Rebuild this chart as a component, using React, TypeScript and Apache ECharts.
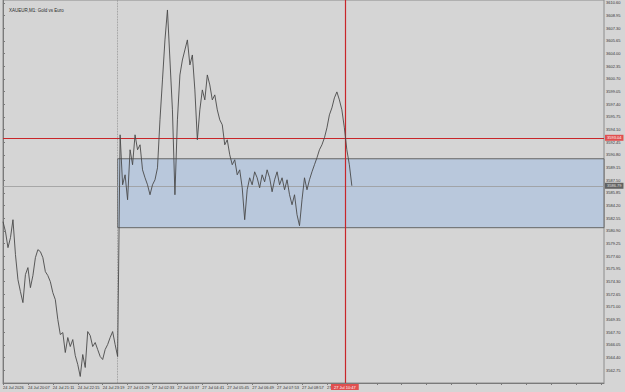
import React, { useEffect, useRef } from "react";
import * as echarts from "echarts";

const chartTitle = "XAUEUR,M1: Gold vs Euro";

// price scale
const BASE = 3561.1;
const TICK = 1.65;
const TOP_PRICE = 3610.99;

// x axis: one step = 6.4 minutes, label every 10 steps
const X_MAX = 241.2;
const timeLabels = [
  "24 Jul 2026",
  "24 Jul 20:07",
  "24 Jul 21:11",
  "24 Jul 22:15",
  "24 Jul 23:19",
  "27 Jul 01:29",
  "27 Jul 02:33",
  "27 Jul 03:37",
  "27 Jul 04:41",
  "27 Jul 05:45",
  "27 Jul 06:49",
  "27 Jul 07:53",
  "27 Jul 08:57",
  "27 Jul 10:01",
];

// previous session
const pricesDay1 = [
  3582.11, 3580.81, 3578.73, 3580.03, 3582.37, 3577.82, 3574.56, 3573.0, 3571.57, 3575.22,
  3576.13, 3573.52, 3575.09, 3577.43, 3578.47, 3578.21, 3577.43, 3575.61, 3575.09, 3574.3,
  3572.87, 3571.96, 3569.36, 3567.41, 3567.67, 3565.07, 3567.02, 3565.85, 3566.76, 3564.68,
  3563.51, 3561.95, 3564.81, 3563.12, 3567.8, 3567.28, 3565.85, 3566.37, 3565.46, 3564.55,
  3564.16, 3565.46, 3566.11, 3567.02, 3567.8, 3566.11, 3564.55,
];

// current session
const pricesDay2 = [
  3593.43, 3586.92, 3588.22, 3584.97, 3591.48, 3589.53, 3593.43, 3591.48, 3592.13, 3588.87,
  3587.83, 3586.92, 3585.62, 3586.92, 3587.57, 3589.13, 3595.38, 3600.58, 3605.79, 3609.69,
  3603.18, 3596.68, 3585.62, 3595.38, 3601.23, 3603.18, 3604.49, 3605.79, 3602.53, 3603.83,
  3599.28, 3592.78, 3596.68, 3599.28, 3597.98, 3601.23, 3599.93, 3597.98, 3598.63, 3596.68,
  3595.38, 3594.73, 3592.13, 3592.78, 3590.83, 3589.53, 3590.18, 3588.22, 3588.87, 3586.53,
  3582.37, 3586.27, 3587.83, 3586.92, 3588.61, 3587.83, 3586.53, 3588.22, 3587.31, 3588.87,
  3587.83, 3586.01, 3587.57, 3588.61, 3586.92, 3587.83, 3586.27, 3587.57, 3585.62, 3584.32,
  3585.62, 3583.02, 3581.59, 3584.97, 3587.83, 3586.27, 3587.57, 3588.61, 3589.53, 3590.44,
  3591.48, 3592.13, 3593.04, 3594.34, 3596.03, 3596.94, 3598.24, 3599.02, 3597.98, 3596.68,
  3594.34, 3591.48, 3589.53, 3586.79,
];

const separatorIndex = 46;
const bidPrice = 3586.79;
const crossPrice = 3593.04;
const crossIndex = 137.2;
const crossTimeLabel = "27 Jul 10:47";
const zoneTop = 3590.31;
const zoneBottom = 3581.33;

const FONT = "Liberation Sans, Arial, sans-serif";

export default function App() {
  const ref = useRef<HTMLDivElement>(null);
  useEffect(() => {
    if (!ref.current) return;
    const chart = echarts.init(ref.current, null, { renderer: "svg" });
    const prices = [...pricesDay1, ...pricesDay2];
    const data = prices.map((p, i) => [i, p - BASE]);
    const red = "#c8262a";
    chart.setOption({
      animation: false,
      backgroundColor: "#d5d5d5",
      title: {
        text: chartTitle,
        left: 4,
        top: 3,
        textStyle: { fontSize: 4.5, fontWeight: "normal", color: "#2a2a2a", fontFamily: FONT },
      },
      grid: {
        left: 1,
        right: 21,
        top: 0,
        bottom: 9,
        show: true,
        borderColor: "#8c8c8c",
        borderWidth: 1,
        backgroundColor: "#d5d5d5",
      },
      xAxis: {
        type: "value",
        min: 0,
        max: X_MAX,
        interval: 10,
        axisLine: { show: true, lineStyle: { color: "#7a7a7a" } },
        axisTick: { show: true, length: 2, lineStyle: { color: "#7a7a7a" } },
        splitLine: { show: false },
        axisLabel: {
          fontSize: 4,
          color: "#333",
          margin: 2,
          align: "left",
          fontFamily: FONT,
          showMaxLabel: false,
          formatter: (v: number) => timeLabels[Math.round(v / 10)] ?? "",
        },
      },
      yAxis: {
        type: "value",
        position: "right",
        min: 0,
        max: TOP_PRICE - BASE,
        interval: TICK,
        axisLine: { show: true, lineStyle: { color: "#7a7a7a" } },
        axisTick: { show: true, length: 2, lineStyle: { color: "#7a7a7a" } },
        splitLine: { show: false },
        axisLabel: {
          fontSize: 4,
          color: "#333",
          margin: 2,
          fontFamily: FONT,
          showMinLabel: false,
          showMaxLabel: false,
          formatter: (v: number) => (v + BASE).toFixed(2),
        },
      },
      series: [
        {
          type: "line",
          data,
          symbol: "none",
          lineStyle: { color: "#4a4a4a", width: 0.9 },
          z: 5,
          markArea: {
            silent: true,
            itemStyle: { color: "#b9c8dc", borderColor: "#666", borderWidth: 1 },
            data: [[
              { xAxis: separatorIndex, yAxis: zoneBottom - BASE },
              { xAxis: X_MAX, yAxis: zoneTop - BASE },
            ]],
          },
          markLine: {
            silent: true,
            symbol: ["none", "none"],
            data: [
              {
                xAxis: separatorIndex,
                lineStyle: { color: "#8a8a8a", type: "dotted", width: 0.8 },
                label: { show: false },
              },
              {
                yAxis: bidPrice - BASE,
                lineStyle: { color: "#9a9a9a", type: "solid", width: 0.8 },
                label: {
                  show: true,
                  position: "end",
                  distance: 1,
                  formatter: bidPrice.toFixed(2),
                  backgroundColor: "#626262",
                  color: "#e0e0e0",
                  fontSize: 4,
                  padding: [1, 2],
                  fontFamily: FONT,
                },
              },
              {
                yAxis: crossPrice - BASE,
                lineStyle: { color: red, type: "solid", width: 1.2 },
                label: {
                  show: true,
                  position: "end",
                  distance: 1,
                  formatter: crossPrice.toFixed(2),
                  backgroundColor: "#e05050",
                  color: "#fff",
                  fontSize: 4,
                  padding: [1, 2],
                  fontFamily: FONT,
                },
              },
              {
                xAxis: crossIndex,
                lineStyle: { color: red, type: "solid", width: 1.2 },
                label: {
                  show: true,
                  position: "start",
                  distance: 1,
                  formatter: crossTimeLabel,
                  backgroundColor: "#e05050",
                  color: "#fff",
                  fontSize: 4,
                  padding: [1, 3],
                  fontFamily: FONT,
                },
              },
            ],
          },
        },
      ],
    });
    return () => chart.dispose();
  }, []);
  return (
    <div
      ref={ref}
      style={{ position: "fixed", left: 0, top: 0, width: 625, height: 392 }}
    />
  );
}
